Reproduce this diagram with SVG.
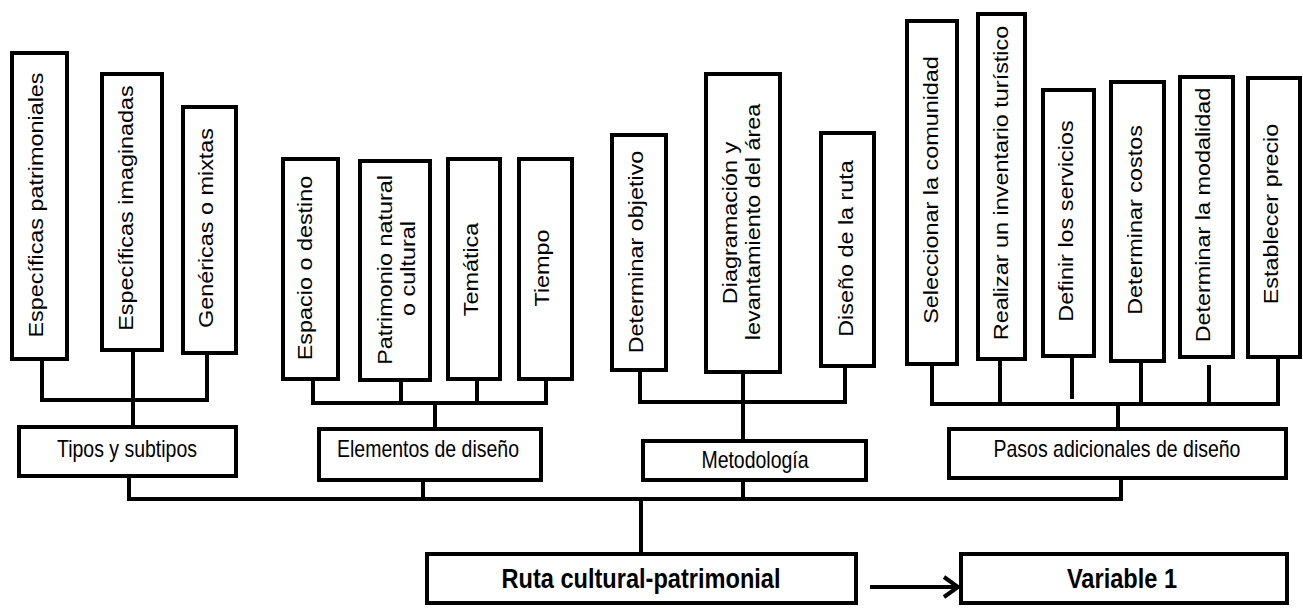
<svg xmlns="http://www.w3.org/2000/svg" width="1303" height="608" viewBox="0 0 1303 608">
<defs>
<style>
.box{fill:#fff;stroke:#000;stroke-width:4}
.t{font-family:"Liberation Sans",Arial,sans-serif;font-size:19.5px;text-anchor:middle;fill:#000}
.b{font-family:"Liberation Sans",Arial,sans-serif;font-size:23.6px;font-weight:bold;text-anchor:middle;fill:#000}
.c{stroke:#000;stroke-width:4;fill:none;stroke-linecap:square}
</style>
<marker id="arr" markerUnits="userSpaceOnUse" markerWidth="22" markerHeight="26" refX="17" refY="13" orient="auto">
<path d="M3,3 L17,13 L3,23" fill="none" stroke="#000" stroke-width="4" stroke-linejoin="miter"/>
</marker>
</defs>
<rect width="1303" height="608" fill="#fff"/>

<g id="connectors">
<!-- group 1 -->
<path class="c" d="M42,361 V400 M207,355 V400 M42,400 H207 M133,352 V425"/>
<!-- group 2 -->
<path class="c" d="M313,381 V403 M401,382 V403 M477,381 V403 M546,381 V403 M313,403 H546 M435,403 V427"/>
<!-- group 3 -->
<path class="c" d="M640,372 V402 M845,368 V402 M640,402 H845 M743,374 V439"/>
<!-- group 4 -->
<path class="c" d="M932,366 V404 M1000,361 V404 M1072,358 V397 M1141,363 V404 M1209,367 V404 M1278,359 V404 M932,404 H1278 M1118,404 V427"/>
<!-- main -->
<path class="c" d="M129,480 V499 M423,482 V499 M743,482 V499 M1121,481 V499 M129,499 H1121 M641,499 V552"/>
<line x1="870" y1="587" x2="958" y2="587" stroke="#000" stroke-width="4" marker-end="url(#arr)"/>
</g>

<g id="n-esp-patr"><rect class="box" x="12" y="53" width="55" height="306"/>
<text class="t" transform="translate(43,205) scale(1,1.2) rotate(-90)">Específicas patrimoniales</text></g>
<g id="n-esp-imag"><rect class="box" x="102" y="74" width="60" height="276"/>
<text class="t" transform="translate(133,208) scale(1,1.2) rotate(-90)">Específicas imaginadas</text></g>
<g id="n-genericas"><rect class="box" x="183" y="107" width="53" height="246"/>
<text class="t" transform="translate(213,228) scale(1,1.2) rotate(-90)">Genéricas o mixtas</text></g>
<g id="n-tipos"><rect class="box" x="19" y="427" width="217" height="49"/>
<text class="t" transform="translate(127,457) scale(1,1.2)">Tipos y subtipos</text></g>

<g id="n-espacio"><rect class="box" x="283" y="159" width="55" height="220"/>
<text class="t" transform="translate(312,268) scale(1,1.2) rotate(-90)">Espacio o destino</text></g>
<g id="n-patrimonio"><rect class="box" x="360" y="161" width="70" height="219"/>
<text class="t" transform="translate(392,270) scale(1,1.2) rotate(-90)">Patrimonio natural</text>
<text class="t" transform="translate(415,268.5) scale(1,1.2) rotate(-90)">o cultural</text></g>
<g id="n-tematica"><rect class="box" x="448" y="159" width="52" height="220"/>
<text class="t" transform="translate(478,269.5) scale(1,1.2) rotate(-90)">Temática</text></g>
<g id="n-tiempo"><rect class="box" x="519" y="159" width="53" height="220"/>
<text class="t" transform="translate(549,268) scale(1,1.2) rotate(-90)">Tiempo</text></g>
<g id="n-elementos"><rect class="box" x="319" y="429" width="222" height="51"/>
<text class="t" transform="translate(428,457) scale(1,1.2)">Elementos de diseño</text></g>

<g id="n-objetivo"><rect class="box" x="612" y="135" width="54" height="235"/>
<text class="t" transform="translate(643,252) scale(1,1.2) rotate(-90)">Determinar objetivo</text></g>
<g id="n-diagramacion"><rect class="box" x="706" y="74" width="74" height="298"/>
<text class="t" transform="translate(737,223) scale(1,1.2) rotate(-90)">Diagramación y</text>
<text class="t" transform="translate(760,222) scale(1,1.2) rotate(-90)">levantamiento del área</text></g>
<g id="n-diseno-ruta"><rect class="box" x="821" y="133" width="53" height="233"/>
<text class="t" transform="translate(853,248.5) scale(1,1.2) rotate(-90)">Diseño de la ruta</text></g>
<g id="n-metodologia"><rect class="box" x="643" y="441" width="223" height="39"/>
<text class="t" transform="translate(755,468) scale(1,1.2)">Metodología</text></g>

<g id="n-seleccionar"><rect class="box" x="907" y="21" width="50" height="343"/>
<text class="t" transform="translate(938,190) scale(1,1.2) rotate(-90)">Seleccionar la comunidad</text></g>
<g id="n-realizar"><rect class="box" x="978" y="14" width="47" height="345"/>
<text class="t" transform="translate(1008,183) scale(1,1.2) rotate(-90)">Realizar un inventario turístico</text></g>
<g id="n-definir"><rect class="box" x="1043" y="90" width="51" height="266"/>
<text class="t" transform="translate(1073,221) scale(1,1.2) rotate(-90)">Definir los servicios</text></g>
<g id="n-costos"><rect class="box" x="1111" y="82" width="53" height="279"/>
<text class="t" transform="translate(1142,220) scale(1,1.2) rotate(-90)">Determinar costos</text></g>
<g id="n-modalidad"><rect class="box" x="1180" y="77" width="53" height="280"/>
<text class="t" transform="translate(1210,215) scale(1,1.2) rotate(-90)">Determinar la modalidad</text></g>
<g id="n-precio"><rect class="box" x="1248" y="78" width="52" height="279"/>
<text class="t" transform="translate(1278,214) scale(1,1.2) rotate(-90)">Establecer precio</text></g>
<g id="n-pasos"><rect class="box" x="949" y="429" width="337" height="49"/>
<text class="t" transform="translate(1117,457) scale(1,1.2)">Pasos adicionales de diseño</text></g>

<g id="n-ruta"><rect class="box" x="427" y="554" width="429" height="49"/>
<text class="b" transform="translate(641,588) scale(1,1.2)">Ruta cultural-patrimonial</text></g>
<g id="n-variable"><rect class="box" x="961" y="554" width="326" height="49"/>
<text class="b" transform="translate(1122,588) scale(1,1.2)">Variable 1</text></g>
</svg>
